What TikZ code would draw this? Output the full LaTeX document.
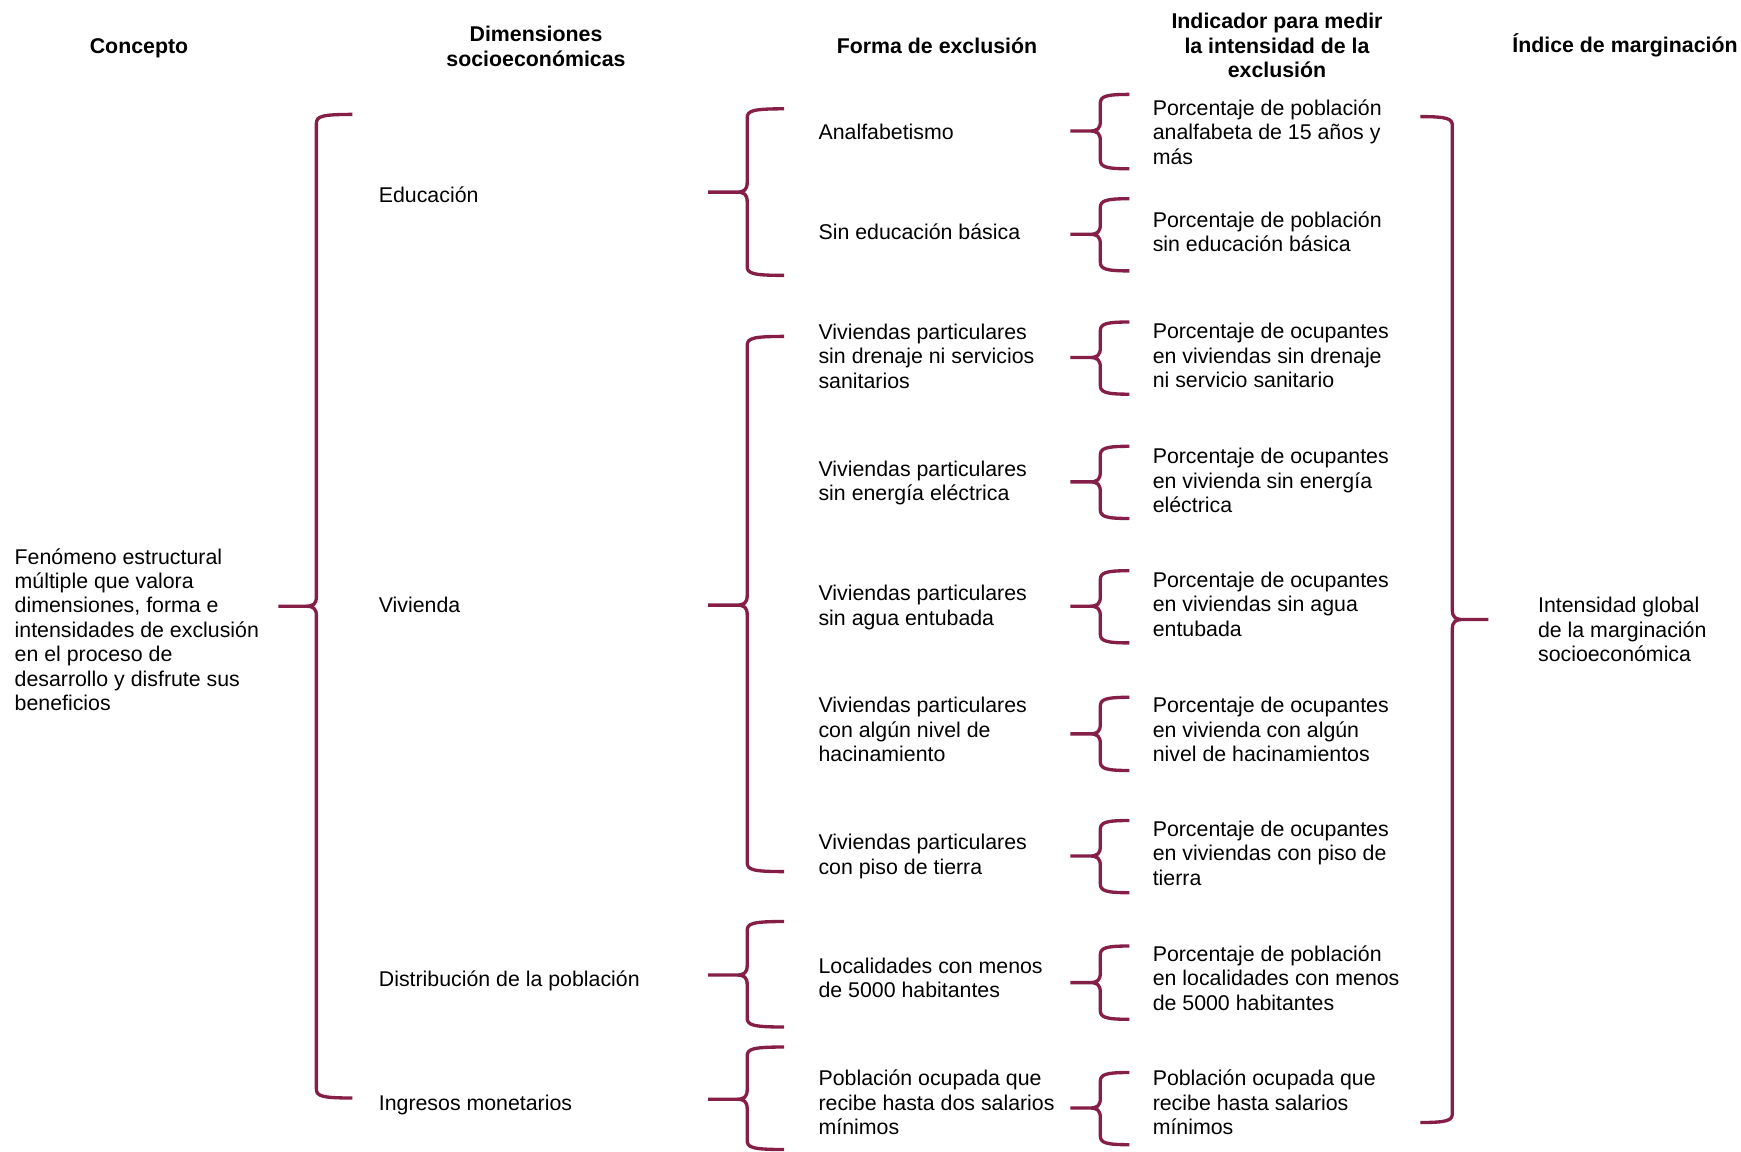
\documentclass[tikz,border=0pt]{standalone}
\usepackage{fontspec}
\setmainfont{Liberation Sans}
\definecolor{brcol}{RGB}{134,31,72}
\tikzset{
  brc/.style={draw=brcol, line width=2.5pt, line join=round},
  txt/.style={anchor=west, align=left, inner sep=0pt, font=\fontsize{16}{18.3}\selectfont},
  hdr/.style={anchor=center, align=center, inner sep=0pt, font=\fontsize{16}{18.3}\selectfont\bfseries}
}
\newcommand\bracel[6]{%
\draw[brc] ({#1+#6},#2) .. controls ({#1+5},#2) and (#1,{#2+2}) .. (#1,{#2+9})
 -- (#1,{#4-10}) .. controls (#1,{#4-2}) and ({#1-3},#4) .. ({#1-11},#4) -- ({#1-#5},#4)
 ({#1-11},#4) .. controls ({#1-3},#4) and (#1,{#4+2}) .. (#1,{#4+10})
 -- (#1,{#3-9}) .. controls (#1,{#3-2}) and ({#1+5},#3) .. ({#1+#6},#3);}
\newcommand\bracer[6]{%
\draw[brc] ({#1-#6},#2) .. controls ({#1-5},#2) and (#1,{#2+2}) .. (#1,{#2+9})
 -- (#1,{#4-10}) .. controls (#1,{#4-2}) and ({#1+3},#4) .. ({#1+11},#4) -- ({#1+#5},#4)
 ({#1+11},#4) .. controls ({#1+3},#4) and (#1,{#4+2}) .. (#1,{#4+10})
 -- (#1,{#3-9}) .. controls (#1,{#3-2}) and ({#1-5},#3) .. ({#1-#6},#3);}
\begin{document}
\begin{tikzpicture}[x=0.75pt,y=-0.75pt]
\useasboundingbox (0,0) rectangle (1741,1152);
% headers
\node[hdr] (h1) at (139,48.5) {Concepto};
\node[hdr] (h2) at (536,46.5) {Dimensiones\\socioeconómicas};
\node[hdr] (h3) at (937,45.5) {Forma de exclusión};
\node[hdr] (h4) at (1277,45.5) {Indicador para medir\\la intensidad de la\\exclusión};
\node[hdr] (h5) at (1625,45.5) {Índice de marginación};
% column 1
\node[txt] (c1) at (14.4,629.5) {Fenómeno estructural\\múltiple que valora\\dimensiones, forma e\\intensidades de exclusión\\en el proceso de\\desarrollo y disfrute sus\\beneficios};
% column 2
\node[txt] (d1) at (378.6,194.3) {Educación};
\node[txt] (d2) at (378.6,605) {Vivienda};
\node[txt] (d3) at (378.6,980.5) {Distribución de la población};
\node[txt] (d4) at (378.6,1104.5) {Ingresos monetarios};
% column 3
\node[txt] (f1) at (818.3,132) {Analfabetismo};
\node[txt] (f2) at (818.3,232) {Sin educación básica};
\node[txt] (f3) at (818.3,356) {Viviendas particulares\\sin drenaje ni servicios\\sanitarios};
\node[txt] (f4) at (818.3,483) {Viviendas particulares\\sin energía eléctrica};
\node[txt] (f5) at (818.3,607.5) {Viviendas particulares\\sin agua entubada};
\node[txt] (f6) at (818.3,729.5) {Viviendas particulares\\con algún nivel de\\hacinamiento};
\node[txt] (f7) at (818.3,856.5) {Viviendas particulares\\con piso de tierra};
\node[txt] (f8) at (818.3,978) {Localidades con menos\\de 5000 habitantes};
\node[txt] (f9) at (818.3,1102.5) {Población ocupada que\\recibe hasta dos salarios\\mínimos};
% column 4
\node[txt] (i1) at (1152.5,132) {Porcentaje de población\\analfabeta de 15 años y\\más};
\node[txt] (i2) at (1152.5,231.5) {Porcentaje de población\\sin educación básica};
\node[txt] (i3) at (1152.5,355.5) {Porcentaje de ocupantes\\en viviendas sin drenaje\\ni servicio sanitario};
\node[txt] (i4) at (1152.5,480.5) {Porcentaje de ocupantes\\en vivienda sin energía\\eléctrica};
\node[txt] (i5) at (1152.5,604) {Porcentaje de ocupantes\\en viviendas sin agua\\entubada};
\node[txt] (i6) at (1152.5,729.5) {Porcentaje de ocupantes\\en vivienda con algún\\nivel de hacinamientos};
\node[txt] (i7) at (1152.5,853) {Porcentaje de ocupantes\\en viviendas con piso de\\tierra};
\node[txt] (i8) at (1152.5,978) {Porcentaje de población\\en localidades con menos\\de 5000 habitantes};
\node[txt] (i9) at (1152.5,1102.5) {Población ocupada que\\recibe hasta salarios\\mínimos};
% column 5
\node[txt] (m1) at (1537.8,629.5) {Intensidad global\\de la marginación\\socioeconómica};
% braces
\bracel{316.4}{114.4}{1098}{606.2}{38}{36}
\bracel{747.2}{108.8}{275.4}{192.1}{39}{37}
\bracel{747.2}{336.4}{871.6}{605.1}{39}{37}
\bracel{747.2}{921.5}{1027}{975}{39}{37}
\bracel{747.2}{1047}{1149.5}{1099.2}{39}{37}
\bracel{1100.3}{94.4}{168.8}{131}{30}{29}
\bracel{1100.3}{198.7}{270.9}{234.3}{30}{29}
\bracel{1100.3}{322}{394.2}{357.5}{30}{29}
\bracel{1100.3}{446.3}{518.5}{481.9}{30}{29}
\bracel{1100.3}{570.7}{642.9}{606.2}{30}{29}
\bracel{1100.3}{697.3}{770.5}{733.9}{30}{29}
\bracel{1100.3}{820.5}{892.7}{856}{30}{29}
\bracel{1100.3}{946}{1019.3}{982.6}{30}{29}
\bracel{1100.3}{1072.5}{1144.7}{1108}{30}{29}
\bracer{1452.3}{116.6}{1122.5}{619.5}{36}{32}
\end{tikzpicture}
\end{document}
